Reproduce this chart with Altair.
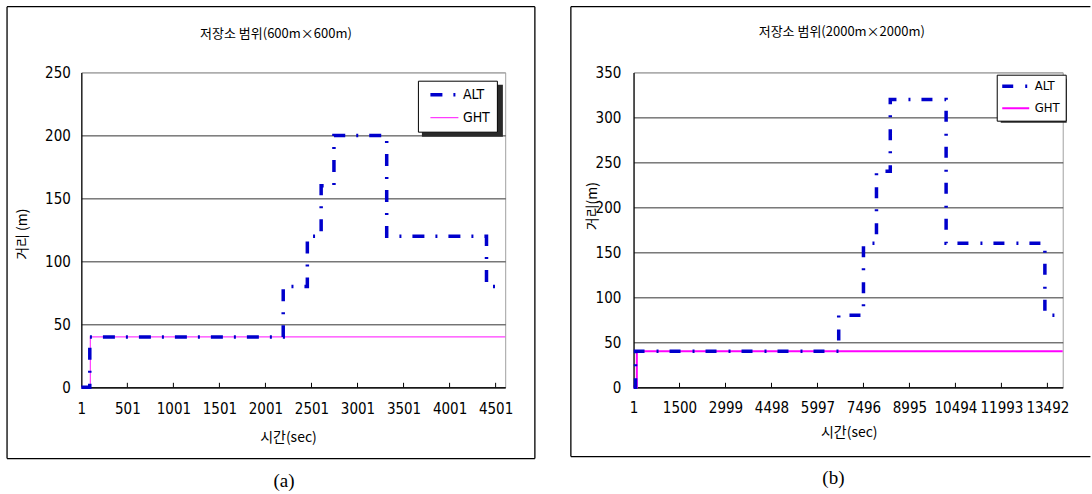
import altair as alt
import pandas as pd

SERIES = ["ALT", "GHT"]
NUM_FONT = "'Liberation Sans Narrow', 'DejaVu Sans Condensed', sans-serif"
KO_FONT = "'Noto Sans CJK KR', sans-serif"
CAP_FONT = "'Liberation Serif', serif"

# (a) storage range 600m x 600m
a_title = "저장소 범위(600m×600m)"
a_ytitle = "거리 (m)"
a_caption = "(a)"
a_alt_t = [1, 93, 2194, 2456, 2606, 2745, 3318, 4402, 4605]
a_alt_d = [0, 40, 80, 120, 160, 200, 120, 80, 80]
a_ght_t = [1, 99, 4605]
a_ght_d = [0, 40, 40]
a_xticks = [1, 501, 1001, 1501, 2001, 2501, 3001, 3501, 4001, 4501]
a_yticks = [0, 50, 100, 150, 200, 250]

# (b) storage range 2000m x 2000m
b_title = "저장소 범위(2000m×2000m)"
b_ytitle = "거리(m)"
b_caption = "(b)"
b_alt_t = [1, 66, 6689, 7496, 7920, 8370, 10190, 13410, 13991]
b_alt_d = [0, 40, 80, 160, 240, 320, 160, 80, 80]
b_ght_t = [1, 108, 13991]
b_ght_d = [0, 40, 40]
b_xticks = [1, 1500, 2999, 4498, 5997, 7496, 8995, 10494, 11993, 13492]
b_yticks = [0, 50, 100, 150, 200, 250, 300, 350]

X_TITLE = "시간(sec)"


def text_layer(s, x, y, font, size):
    return alt.Chart(alt.Data(values=[{"s": s}])).mark_text(
        font=font, fontSize=size, align="center", baseline="middle", color="black"
    ).encode(x=alt.value(x), y=alt.value(y), text="s:N")


def box_layer(x1, x2, y1, y2, **style):
    return alt.Chart(alt.Data(values=[{"k": 0}])).mark_rect(**style).encode(
        x=alt.value(x1), x2=alt.value(x2), y=alt.value(y1), y2=alt.value(y2)
    )


def frame_layers(x1, x2, y1, y2, sides):
    """Panel border drawn as separate rules (left, top, right, bottom)."""
    out = []
    segs = {
        "left": (x1, x1, y1, y2), "right": (x2, x2, y1, y2),
        "top": (x1, x2, y1, y1), "bottom": (x1, x2, y2, y2),
    }
    for s in sides:
        a, b, c, d = segs[s]
        enc = dict(x=alt.value(a), y=alt.value(c))
        if a != b:
            enc["x2"] = alt.value(b)
        if c != d:
            enc["y2"] = alt.value(d)
        out.append(alt.Chart(alt.Data(values=[{"k": 0}])).mark_rule(
            color="black", strokeWidth=1.3).encode(**enc))
    return out


def panel(p):
    W, H = p["w"], p["h"]
    df = pd.DataFrame(
        [{"series": "ALT", "t": t, "d": d} for t, d in zip(p["alt_t"], p["alt_d"])]
        + [{"series": "GHT", "t": t, "d": d} for t, d in zip(p["ght_t"], p["ght_d"])]
    )
    top = p["yticks"][-1]

    x_axis = alt.Axis(
        values=p["xticks"], format="d", ticks=False, grid=False,
        domainColor="black", domainWidth=1.2,
        labelFont=NUM_FONT, labelFontSize=15, labelColor="black",
        labelPadding=p["xpad"], labelFlush=False, labelOverlap=False,
        title=X_TITLE, titleFont=KO_FONT, titleFontSize=14, titleFontWeight="normal",
        titleColor="black", titleX=p["xt"][0], titleY=p["xt"][1], titleAngle=0,
        titleAlign="center", titleBaseline="middle",
    )
    y_axis = alt.Axis(
        values=p["yticks"], format="d", ticks=False, grid=True,
        gridColor={"condition": {"test": f"datum.value === {top}", "value": "#a0a0a0"},
                   "value": "#333333"},
        gridWidth=1, domainColor="black", domainWidth=1.2,
        labelFont=NUM_FONT, labelFontSize=15, labelColor="black",
        labelPadding=p["ypad"],
        title=p["ytitle"], titleFont=KO_FONT, titleFontSize=14, titleFontWeight="normal",
        titleColor="black", titleX=p["yt"][0], titleY=p["yt"][1], titleAngle=270,
        titleAlign="center", titleBaseline="middle",
    )
    x = alt.X("t:Q", scale=alt.Scale(domain=[1, p["xmax"]], nice=False, zero=False), axis=x_axis)
    y = alt.Y("d:Q", scale=alt.Scale(domain=[0, top], nice=False), axis=y_axis)

    lg = p["legend"]
    legend = alt.Legend(
        title=None, orient="none", legendX=lg["x"], legendY=lg["y"], direction="vertical",
        strokeColor="black", fillColor="white", padding=lg["pad"], cornerRadius=0,
        labelFont=NUM_FONT, labelFontSize=lg["font"], labelColor="black",
        symbolType=lg["path"], symbolSize=lg["size"], symbolOffset=lg["soff"],
        labelOffset=lg["loff"], rowPadding=lg["rowpad"],
        symbolStrokeWidth={"expr": f"datum.value === 'ALT' ? 3.5 : {p['ght_w']}"},
    )
    color = alt.Color("series:N", scale=alt.Scale(domain=SERIES, range=["#0000cc", p["ght_color"]]),
                      legend=legend)
    dash = alt.StrokeDash("series:N", scale=alt.Scale(domain=SERIES, range=[p["dash"], [1, 0]]),
                          legend=legend)

    base = alt.Chart(df).encode(x=x, y=y, color=color, strokeDash=dash)
    ght = base.transform_filter("datum.series === 'GHT'").mark_line(
        interpolate="step-after", strokeWidth=p["ght_w"])
    alt_line = base.transform_filter("datum.series === 'ALT'").mark_line(
        interpolate="step-after", strokeWidth=3.5, strokeCap="butt")

    ticks = alt.Chart(pd.DataFrame({"t": p["xticks"][1:]})).mark_rule(
        color="black", strokeWidth=1).encode(x=x, y=alt.value(H - 4.5), y2=alt.value(H))

    fr = p["frame"]
    frames = frame_layers(fr[0], fr[1], fr[2], fr[3], p["sides"])
    sh = p["shadow"]
    shadow = box_layer(sh[0], sh[1], sh[2], sh[3], fill="#2a2a2a")

    title = text_layer(p["title"], p["tt"][0], p["tt"][1], KO_FONT, 13)
    caption = text_layer(p["caption"], p["cap"][0], p["cap"][1], CAP_FONT, 19)

    return alt.layer(*frames, shadow, ght, alt_line, ticks, title, caption).properties(
        width=W, height=H)


left = panel(dict(
    w=424, h=315, xmax=4605, alt_t=a_alt_t, alt_d=a_alt_d, ght_t=a_ght_t, ght_d=a_ght_d,
    xticks=a_xticks, yticks=a_yticks, ytitle=a_ytitle, title=a_title, caption=a_caption,
    ght_color="#ff3cff", ght_w=1.2, dash=[12, 11, 2, 11],
    xpad=14, ypad=11, xt=(206.7, 50.3), yt=(-58.9, 161.3),
    tt=(194.7, -38.7), cap=(202.7, 408.3),
    frame=(-74.3, 453.7, -65.7, 386.3), sides=["left", "top", "right", "bottom"],
    legend=dict(x=336.7, y=8.3, pad=7, font=14, path="M-2,0H2", size=196, soff=12.5, loff=11.5, rowpad=9),
    shadow=(340.7, 421.7, 12.3, 64.3),
))

right = panel(dict(
    w=429.3, h=315, xmax=13991, alt_t=b_alt_t, alt_d=b_alt_d, ght_t=b_ght_t, ght_d=b_ght_d,
    xticks=b_xticks, yticks=b_yticks, ytitle=b_ytitle, title=b_title, caption=b_caption,
    ght_color="#ff00ff", ght_w=2, dash=[11, 12, 2, 11],
    xpad=13, ypad=12.7, xt=(215.3, 45.3), yt=(-40.7, 133.3),
    tt=(208.3, -40.7), cap=(199.9, 405.3),
    frame=(-62.7, 457, -65.7, 384.3), sides=["left", "top", "bottom"],
    legend=dict(x=363.3, y=2.3, pad=5, font=13, path="M-2.25,0H2.25", size=144, soff=7.5, loff=12.5, rowpad=8),
    shadow=(367.3, 433.3, 6.3, 50.3),
))

chart = alt.hconcat(left, right, spacing=128.4, bounds="flush").resolve_scale(
    color="independent", strokeDash="independent"
).resolve_legend(
    color="independent", strokeDash="independent"
).properties(
    padding={"left": 5.35, "top": 5.35, "right": 0, "bottom": 0},
    background="white",
).configure_view(stroke="#a0a0a0", strokeWidth=1)

chart.save("out.html", embed_options={"renderer": "svg", "actions": False})
